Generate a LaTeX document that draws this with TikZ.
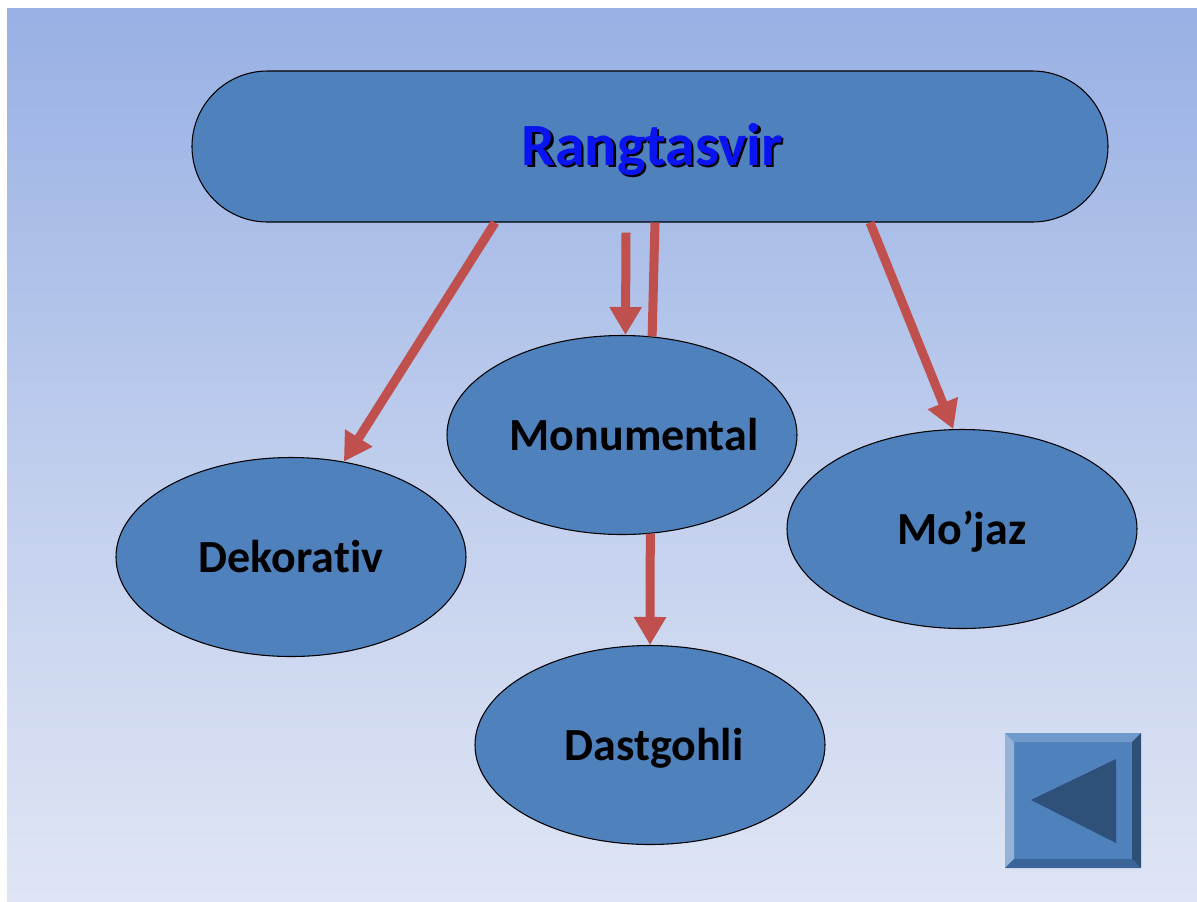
\documentclass[tikz,border=0pt]{standalone}
\usepackage{fontspec}
\setmainfont{Carlito}[RawFeature={-liga}]
\usetikzlibrary{shapes.geometric,shapes.misc,arrows.meta,calc}
\definecolor{bgtop}{HTML}{98B0E4}
\definecolor{bgbot}{HTML}{DFE5F4}
\definecolor{nodefill}{HTML}{4F81BD}
\definecolor{arrred}{HTML}{C0504D}
\definecolor{titleblue}{HTML}{0A14F0}
\definecolor{btnlight}{HTML}{95B3D7}
\definecolor{btntop}{HTML}{7099CC}
\definecolor{btnright}{HTML}{2E5077}
\definecolor{btnbot}{HTML}{3B6499}
\definecolor{btntri}{HTML}{2F5078}
\newcommand{\ovaltext}[2]{\raisebox{-11.6pt}[0pt][0pt]{\makebox[0pt]{\hspace*{#1}#2}}}
\tikzset{
  oval/.style={ellipse, draw=black, line width=0.8pt, fill=nodefill,
    minimum width=262.5pt, minimum height=149.25pt, inner sep=0pt,
    font=\fontsize{34.5}{40}\selectfont\bfseries, text=black},
  topbox/.style={rounded rectangle, draw=black, line width=0.8pt, fill=nodefill,
    minimum width=687pt, minimum height=113.25pt, inner sep=0pt},
  arr/.style={draw=arrred, line width=6.75pt,
    -{Triangle[length=21pt,width=23pt]}},
  plainline/.style={draw=arrred, line width=6.75pt}
}
\begin{document}
\begin{tikzpicture}[x=0.75pt,y=-0.75pt]
\useasboundingbox (0,0) rectangle (1197,901);
\fill[white] (0,0) rectangle (1197,901);
\shade[top color=bgtop, bottom color=bgbot, middle color=bgtop!45!bgbot] (7,8) rectangle (1197,901);

\node[topbox] (R) at (650,146.5) {};
\node[font=\fontsize{45}{50}\selectfont\bfseries, text=black] (Rs) at (654.5,152) {Rangtasvir};
\node[font=\fontsize{45}{50}\selectfont\bfseries, text=titleblue] (Rt) at (652,149.5) {Rangtasvir};

\node[oval] (M) at (622,435) {\ovaltext{18pt}{Monumental}};
\node[oval] (D) at (291,557) {\ovaltext{0pt}{Dekorativ}};
\node[oval] (J) at (962,529) {\ovaltext{0pt}{Mo’jaz}};
\node[oval] (S) at (650,745) {\ovaltext{6pt}{Dastgohli}};

\coordinate (a2s) at ($(R.south)+(-24,10)$);
\draw[arr] ($(R.south)+(-155,0)$) -- (D.61);
\draw[arr] (a2s) -- (M.88);
\draw[plainline] ($(R.south)+(5,0)$) -- (M.73);
\draw[arr] (M.-74) -- (S.north);
\draw[arr] ($(R.south)+(220,0)$) -- (J.95);

% back button
\coordinate (b1) at (1005,733);
\coordinate (b2) at (1141,868);
\fill[nodefill] (b1) rectangle (b2);
\fill[btntop] (1005,733) -- (1141,733) -- (1132,742) -- (1014,742) -- cycle;
\fill[btnlight] (1005,733) -- (1014,742) -- (1014,859) -- (1005,868) -- cycle;
\fill[btnright] (1141,733) -- (1141,868) -- (1132,859) -- (1132,742) -- cycle;
\fill[btnbot] (1005,868) -- (1141,868) -- (1132,859) -- (1014,859) -- cycle;
\fill[btntri] (1031,800) -- (1116,759) -- (1116,843) -- cycle;
\end{tikzpicture}
\end{document}
